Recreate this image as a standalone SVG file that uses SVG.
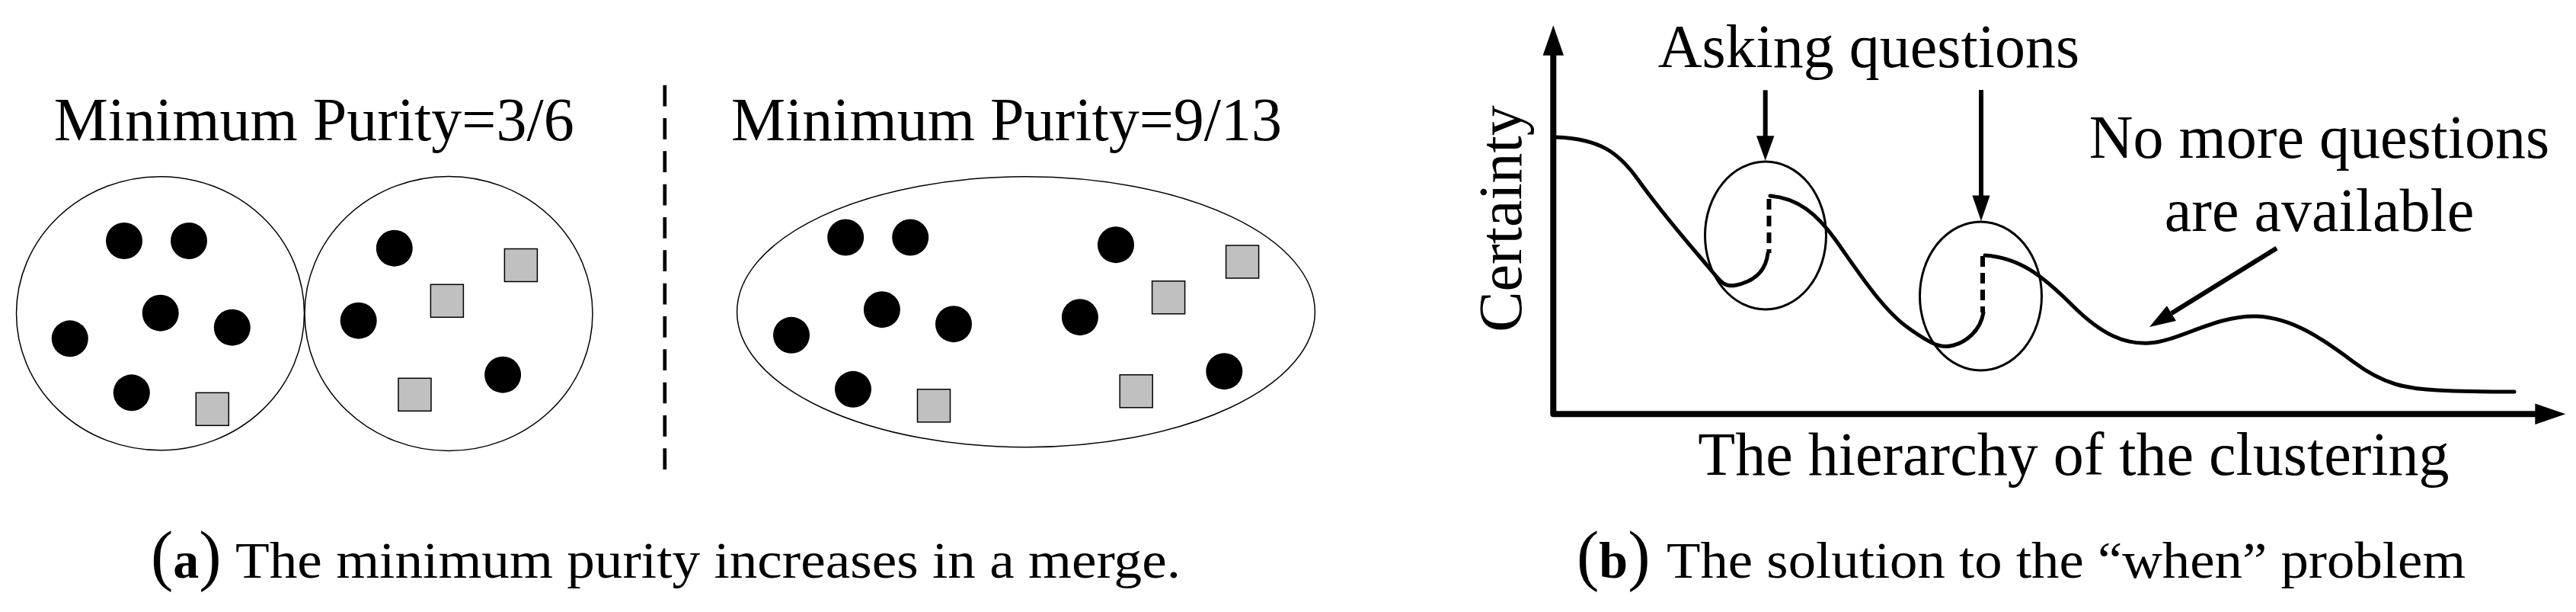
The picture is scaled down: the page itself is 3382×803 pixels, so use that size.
<svg xmlns="http://www.w3.org/2000/svg" width="3382" height="803" viewBox="0 0 3382 803">
<style>
  text { font-family: "Liberation Serif", "Times New Roman", serif; fill: #000; }
  .title { font-size: 80px; }
  .cap { font-size: 68px; }
  .par { font-size: 88px; }
  .cluster { fill: none; stroke: #000; stroke-width: 1.5; }
  .dot { fill: #000; }
  .sq { fill: #c0c0c0; stroke: #000; stroke-width: 1.5; }
  .curve { fill: none; stroke: #000; stroke-width: 5; stroke-linecap: round; stroke-linejoin: round; }
  .dash { fill: none; stroke: #000; stroke-width: 6; stroke-dasharray: 14 8; }
  .ring { fill: none; stroke: #000; stroke-width: 3; }
  .shaft { fill: none; stroke: #000; stroke-width: 6; }
  .axis { fill: none; stroke: #000; stroke-width: 8; stroke-linejoin: round; }
  .head { fill: #000; }
</style>
<defs>
  <circle id="d" r="24" class="dot"/>
  <rect id="s" width="43" height="43" class="sq"/>
  <g id="clusterA">
    <use href="#d" x="163" y="316"/>
    <use href="#d" x="248" y="316"/>
    <use href="#d" x="210.7" y="410.7"/>
    <use href="#d" x="91.8" y="444.3"/>
    <use href="#d" x="304.8" y="429.7"/>
    <use href="#d" x="172.8" y="515.3"/>
    <use href="#s" x="257.3" y="515.3"/>
  </g>
  <g id="clusterB">
    <use href="#d" x="517.8" y="325.7"/>
    <use href="#s" x="662.4" y="326.5"/>
    <use href="#s" x="565.4" y="373.3"/>
    <use href="#d" x="470.7" y="420.7"/>
    <use href="#d" x="660.1" y="491.7"/>
    <use href="#s" x="523" y="496.3"/>
  </g>
</defs>
<rect width="3382" height="803" fill="#fff"/>

<!-- Panel (a) left: before merge -->
<g id="title-a1"><text class="title" x="70.7" y="184">Minimum Purity=3/6</text></g>
<g id="cluster-left">
  <ellipse class="cluster" cx="210.5" cy="411.2" rx="189" ry="179.5"/>
  <use href="#clusterA"/>
</g>
<g id="cluster-right">
  <ellipse class="cluster" cx="589" cy="411.5" rx="189" ry="180"/>
  <use href="#clusterB"/>
</g>
<g id="divider">
  <line x1="872.8" y1="111.7" x2="872.8" y2="616" stroke="#000" stroke-width="4.7" stroke-dasharray="27.7 15.63"/>
</g>
<!-- Panel (a) right: after merge -->
<g id="title-a2"><text class="title" x="960" y="184">Minimum Purity=9/13</text></g>
<g id="cluster-merged">
  <ellipse class="cluster" cx="1347" cy="409.2" rx="379.4" ry="177.5"/>
  <g transform="translate(947.2,-4.5)">
    <use href="#clusterA"/>
    <use href="#clusterB"/>
  </g>
</g>
<g id="caption-a">
  <text class="cap" x="198" y="758"><tspan class="par">(</tspan><tspan font-weight="bold">a</tspan><tspan class="par">)</tspan></text>
  <text class="cap" x="309" y="758" textLength="1241" lengthAdjust="spacingAndGlyphs">The minimum purity increases in a merge.</text>
</g>

<!-- Panel (b) -->
<g id="axes">
  <path class="axis" d="M2039.3 72 L2039.3 543.2 L3330 543.2"/>
  <polygon class="head" points="2039.3,33.3 2025.6,72.7 2053,72.7"/>
  <polygon class="head" points="3368.3,543.2 3328.3,529.5 3328.3,557"/>
</g>
<g id="label-certainty">
  <text class="title" transform="translate(1997,287) rotate(-90)" text-anchor="middle">Certainty</text>
</g>
<g id="label-hierarchy">
  <text class="title" x="2229.3" y="623">The hierarchy of the clustering</text>
</g>
<g id="certainty-curve">
  <path class="curve" d="M2043 180 C2100 182 2125 200 2150 235 S2200 300 2230 335 S2262 378 2280 374 S2318 360 2321 332"/>
  <path class="curve" d="M2324 257 C2360 260 2385 280 2410 315 S2470 405 2505 430 S2550 457 2565 453 S2600 435 2604 410"/>
  <path class="curve" d="M2606 335 C2650 338 2680 360 2720 400 S2790 452 2822 450 C2860 448 2910 413 2963 415 C3010 417 3050 445 3090 475 S3160 510 3200 512 S3260 514 3301 514"/>
  <line class="dash" x1="2322.5" y1="261" x2="2322.5" y2="332"/>
  <line class="dash" x1="2603" y1="336" x2="2603" y2="410"/>
</g>
<g id="question-1">
  <ellipse class="ring" cx="2318" cy="309" rx="79.5" ry="97"/>
</g>
<g id="question-2">
  <ellipse class="ring" cx="2600.5" cy="388.5" rx="80" ry="97.5"/>
</g>
<g id="label-asking">
  <text class="title" x="2176.7" y="88">Asking questions</text>
</g>
<g id="label-nomore">
  <text class="title" x="3045" y="207" text-anchor="middle">No more questions</text>
  <text class="title" x="3045" y="302.7" text-anchor="middle">are available</text>
</g>
<g id="connectors">
  <line class="shaft" x1="2317.7" y1="118.3" x2="2317.7" y2="180"/>
  <polygon class="head" points="2306,178.3 2329.4,178.3 2317.7,210.7"/>
  <line class="shaft" x1="2601" y1="118" x2="2601" y2="258"/>
  <polygon class="head" points="2589.4,256.5 2612.6,256.5 2601,290"/>
  <line class="shaft" x1="2989" y1="325.6" x2="2850.9" y2="411.1"/>
  <polygon class="head" points="2822,429 2856.9,420.9 2844.9,401.3"/>
</g>
<g id="caption-b">
  <text class="cap" x="2070" y="758"><tspan class="par">(</tspan><tspan font-weight="bold">b</tspan><tspan class="par">)</tspan></text>
  <text class="cap" x="2188" y="758" textLength="1049" lengthAdjust="spacingAndGlyphs">The solution to the “when” problem</text>
</g>
</svg>
